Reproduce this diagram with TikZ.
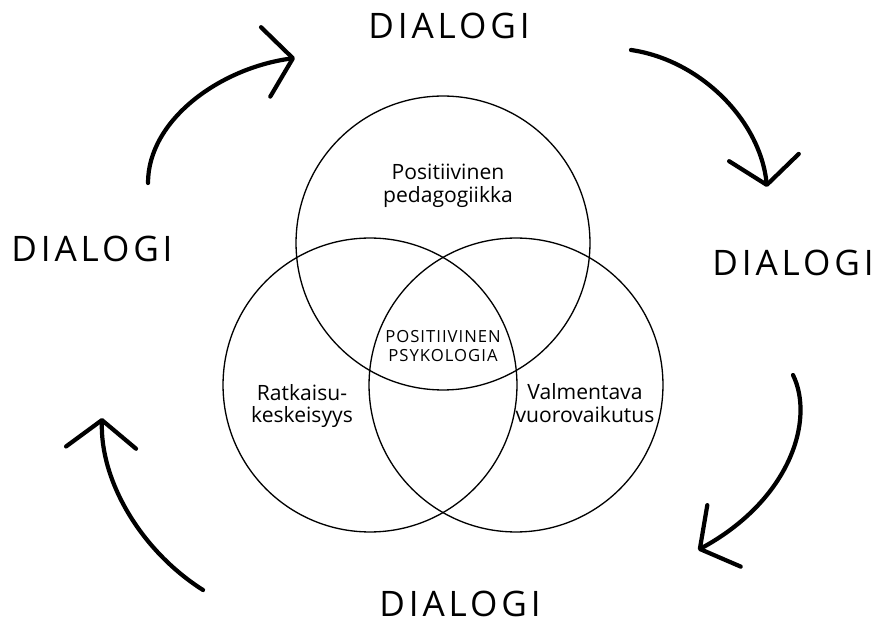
\documentclass[tikz,border=0pt]{standalone}
\usepackage{fontspec}
\setmainfont{Open Sans}
\newfontfamily\dialogfont[LetterSpace=11]{Open Sans}
\usetikzlibrary{arrows.meta}

\begin{document}
\begin{tikzpicture}[x=0.02cm, y=-0.02cm,
  venn/.style={draw, circle, line width=0.75pt, minimum size=5.88cm, inner sep=0pt},
  venntext/.style={align=center, font=\fontsize{12}{13}\selectfont},
  core/.style={align=center, font=\fontsize{9.5}{11}\selectfont\addfontfeature{LetterSpace=6}},
  dialog/.style={inner sep=0pt, font=\dialogfont\fontsize{20}{24}\selectfont},
  dialogarrow/.style={line width=2.4pt, line cap=round,
    -{Straight Barb[length=5.5mm, width=14mm, round]}}]
  \useasboundingbox (0,0) rectangle (875,624);

  \node[venn] (ped) at (443,243) {};
  \node[venn] (rat) at (370,385) {};
  \node[venn] (val) at (516,385) {};

  \node[venntext] (pedtext) at (448,186) {Positiivinen\\pedagogiikka};
  \node[venntext] (rattext) at (302,406) {Ratkaisu-\\keskeisyys};
  \node[venntext] (valtext) at (585,403) {Valmentava\\vuorovaikutus};
  \node[core] (psy) at (443,346) {POSITIIVINEN\\PSYKOLOGIA};

  \node[dialog] (dtop) at (449,26) {DIALOGI};
  \node[dialog] (dleft) at (92,249) {DIALOGI};
  \node[dialog] (dright) at (793,263) {DIALOGI};
  \node[dialog] (dbottom) at (460,604) {DIALOGI};

  \coordinate (a1) at (148,183);
  \coordinate (b1) at (295,58);
  \coordinate (a2) at (631,50);
  \coordinate (b2) at (767,187);
  \coordinate (a3) at (793,375);
  \coordinate (b3) at (698,550);
  \coordinate (a4) at (203,590);
  \coordinate (b4) at (102,418);

  \draw[dialogarrow] (a1) .. controls (148,120) and (220,68) .. (b1);
  \draw[dialogarrow] (a2) .. controls (700,60) and (760,120) .. (b2);
  \draw[dialogarrow] (a3) .. controls (815,420) and (790,500) .. (b3);
  \draw[dialogarrow] (a4) .. controls (140,550) and (100,480) .. (b4);
\end{tikzpicture}
\end{document}
